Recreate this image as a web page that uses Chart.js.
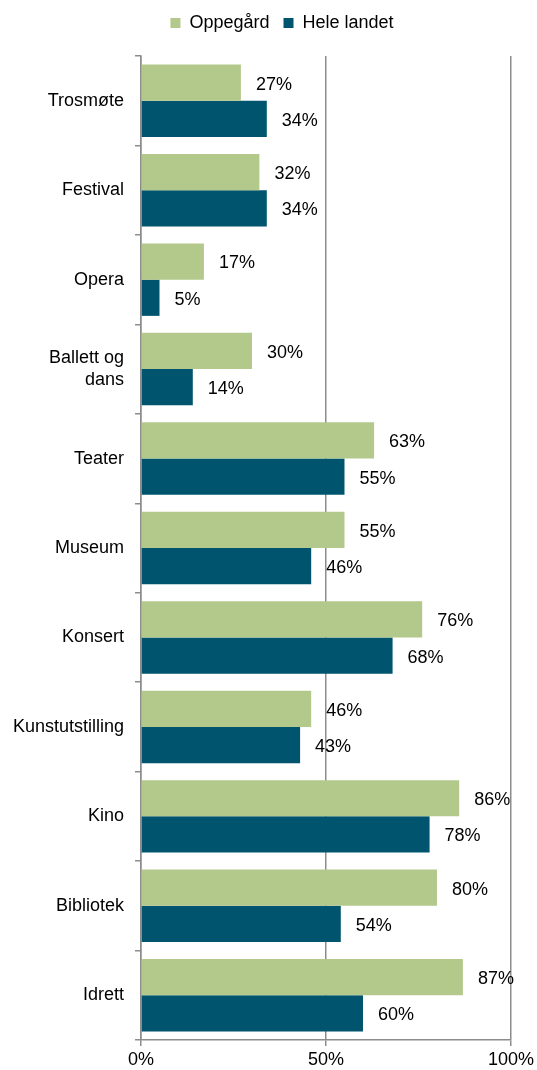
<!DOCTYPE html>
<html>
<head>
<meta charset="utf-8">
<script src="https://cdn.jsdelivr.net/npm/chart.js@4"></script>
<style>
    html, body { margin: 0; padding: 0; background: #fff; }
    #wrap { width: 537px; height: 1070px; position: relative; }
</style>
</head>
<body>
<div id="wrap"><canvas id="chart"></canvas></div>
<script>
(function() {
    'use strict';

    const categories = ['Trosmøte', 'Festival', 'Opera', ['Ballett og', 'dans'], 'Teater', 'Museum',
        'Konsert', 'Kunstutstilling', 'Kino', 'Bibliotek', 'Idrett'];
    const oppegard = [27, 32, 17, 30, 63, 55, 76, 46, 86, 80, 87];
    const heleLandet = [34, 34, 5, 14, 55, 46, 68, 43, 78, 54, 60];
    const xTicks = [0, 50, 100];

    const font = { family: 'Liberation Sans, Arial, sans-serif', size: 18 };
    const axisGray = '#8c8c8c';

    // value labels at the end of each bar
    const barLabels = {
        id: 'barLabels',
        afterDatasetsDraw(chart) {
            const ctx = chart.ctx;
            ctx.save();
            ctx.font = font.size + 'px ' + font.family;
            ctx.fillStyle = '#000';
            ctx.textAlign = 'left';
            ctx.textBaseline = 'middle';
            chart.data.datasets.forEach((ds, i) => {
                chart.getDatasetMeta(i).data.forEach((bar, j) => {
                    ctx.fillText(ds.data[j] + '%', bar.x + 15, bar.y + 2);
                });
            });
            ctx.restore();
        }
    };

    // legend sits a little right of centre, with more room under it
    const legendTweak = {
        id: 'legendTweak',
        beforeInit(chart) {
            const legend = chart.legend;
            if (!legend) return;
            const fit = legend.fit;
            legend.fit = function() {
                fit.call(this);
                this.height += 14;
            };
        },
        afterLayout(chart) {
            chart.legend.left += 26;
            chart.legend.right += 26;
        }
    };

    new Chart(document.getElementById('chart'), {
        type: 'bar',
        data: {
            labels: categories,
            datasets: [
                {
                    label: 'Oppegård',
                    data: oppegard,
                    backgroundColor: '#b3c98c',
                    barPercentage: 1,
                    categoryPercentage: 0.81
                },
                {
                    label: 'Hele landet',
                    data: heleLandet,
                    backgroundColor: '#00546e',
                    barPercentage: 1,
                    categoryPercentage: 0.81
                }
            ]
        },
        options: {
            indexAxis: 'y',
            responsive: true,
            maintainAspectRatio: false,
            animation: false,
            layout: { padding: { left: 0, right: 25, top: 0, bottom: 0 } },
            plugins: {
                legend: {
                    position: 'top',
                    labels: {
                        font,
                        color: '#000',
                        boxWidth: 10,
                        boxHeight: 10,
                        padding: 14
                    }
                },
                tooltip: { enabled: false }
            },
            scales: {
                x: {
                    min: 0,
                    max: 100,
                    afterBuildTicks: s => { s.ticks = xTicks.map(v => ({ value: v })); },
                    afterFit: s => { s.height = 30; },
                    ticks: {
                        font,
                        color: '#000',
                        padding: 3,
                        maxRotation: 0,
                        callback: v => v + '%'
                    },
                    grid: { color: axisGray, lineWidth: 1.5, tickLength: 6 },
                    border: { color: axisGray, width: 1.5 }
                },
                y: {
                    afterFit: s => { s.width = 141; },
                    ticks: { font, color: '#000', padding: 11 },
                    grid: { drawOnChartArea: false, color: axisGray, lineWidth: 1.5, tickLength: 6 },
                    border: { color: axisGray, width: 1.5 }
                }
            }
        },
        plugins: [barLabels, legendTweak]
    });
})();
</script>
</body>
</html>
